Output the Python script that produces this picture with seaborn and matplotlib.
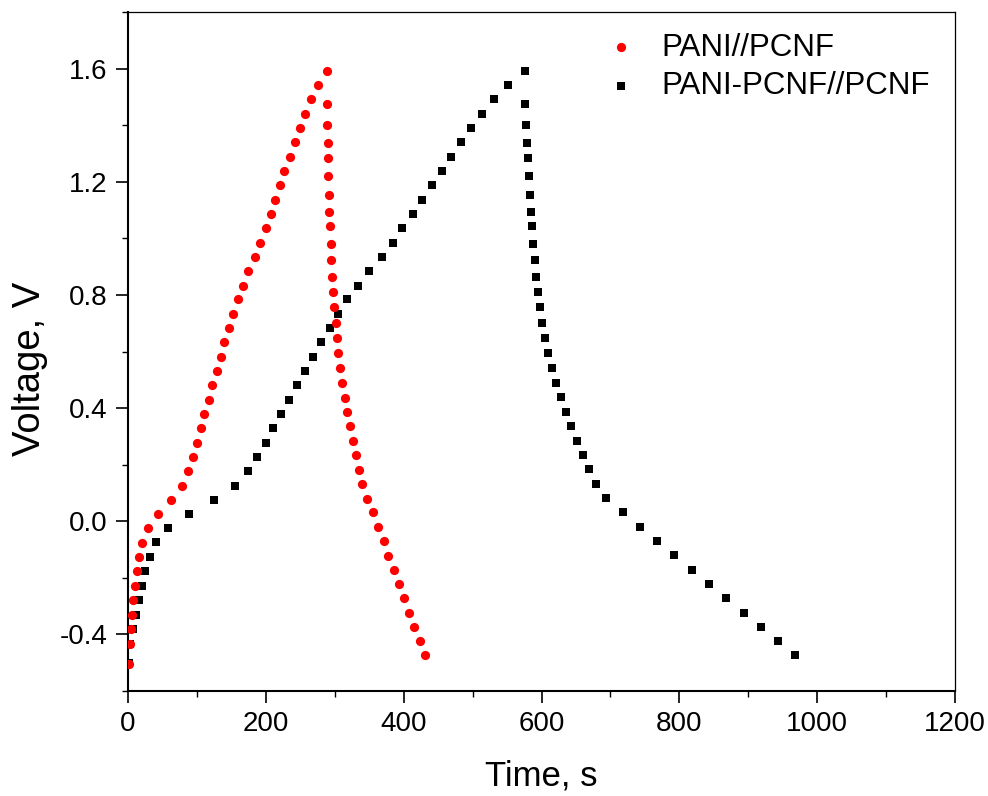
import matplotlib
matplotlib.use("Agg")
import matplotlib.pyplot as plt
from matplotlib.ticker import MultipleLocator
import seaborn as sns
import pandas as pd

# PANI//PCNF (red circles): time (s) and voltage (V)
pani_t = [1, 3, 4, 5.4, 7.7, 9.7, 12.6, 16, 20.3, 28.5, 44, 63, 78, 87, 94, 99.6,
          106, 111, 117, 122, 128.6, 134.4, 139.7, 146, 152.5, 159, 166.5, 174.5,
          183.7, 192, 199.7, 207, 213, 220.4, 227, 234.5, 241.7, 249, 257, 266,
          275.5, 288.6,
          288.6, 289, 289.5, 290, 290.5, 291, 292, 293, 294, 295, 296, 297.3, 299.2,
          301.2, 303.1, 305, 308, 310.3, 314.2, 318, 321.5, 325.8, 330.2, 334.5,
          339.8, 347, 355.7, 362.5, 370.8, 377.5, 385.3, 393, 400.2, 408, 415.2,
          423, 430.3]
pani_v = [-0.503, -0.435, -0.382, -0.33, -0.28, -0.23, -0.177, -0.127, -0.077,
          -0.025, 0.025, 0.075, 0.126, 0.177, 0.227, 0.277, 0.329, 0.379, 0.430,
          0.480, 0.530, 0.581, 0.632, 0.682, 0.733, 0.784, 0.833, 0.885, 0.935,
          0.985, 1.036, 1.087, 1.136, 1.187, 1.238, 1.289, 1.339, 1.39, 1.44,
          1.491, 1.541, 1.592,
          1.475, 1.40, 1.338, 1.283, 1.219, 1.154, 1.094, 1.043, 0.981, 0.924,
          0.864, 0.81, 0.757, 0.701, 0.647, 0.594, 0.541, 0.489, 0.437, 0.386,
          0.336, 0.284, 0.233, 0.181, 0.132, 0.080, 0.031, -0.021, -0.071,
          -0.123, -0.172, -0.223, -0.273, -0.324, -0.375, -0.424, -0.474]

# PANI-PCNF//PCNF (black squares)
comp_t = [1, 3, 6.8, 11.2, 15.5, 19.9, 25, 32.3, 41, 57.5, 88, 125.5, 155.2, 174.5,
          187.5, 199.7, 210.7, 221.4, 233, 244.6, 256.7, 268.3, 280.3, 292.5, 305,
          318.3, 333.3, 350, 367.9, 383.8, 398.3, 413.7, 427.3, 441.3, 454.9,
          468.8, 482.9, 497.8, 513.8, 531.7, 551, 576.1,
          576.7, 578.2, 579, 580, 581.5, 583, 584.4, 585.8, 587.8, 590.2, 592.7,
          595.3, 597.9, 601.3, 605.1, 610.1, 615.3, 621.1, 627.9, 636.1, 643.4,
          651.5, 659.8, 668.9, 679.7, 694.2, 718.3, 743.5, 768.1, 792.8, 818.3,
          843.5, 868, 893.3, 918.4, 943.6, 968]
comp_v = [-0.50, -0.435, -0.382, -0.33, -0.28, -0.23, -0.177, -0.127, -0.075,
          -0.025, 0.025, 0.075, 0.126, 0.177, 0.227, 0.278, 0.329, 0.379, 0.430,
          0.480, 0.530, 0.581, 0.632, 0.682, 0.733, 0.784, 0.833, 0.885, 0.935,
          0.985, 1.036, 1.087, 1.136, 1.187, 1.238, 1.289, 1.339, 1.39, 1.44,
          1.491, 1.541, 1.592,
          1.475, 1.40, 1.338, 1.283, 1.219, 1.154, 1.094, 1.043, 0.981, 0.924,
          0.864, 0.81, 0.757, 0.702, 0.648, 0.593, 0.542, 0.49, 0.438, 0.386,
          0.337, 0.284, 0.234, 0.183, 0.132, 0.081, 0.031, -0.020, -0.071,
          -0.121, -0.172, -0.222, -0.273, -0.323, -0.375, -0.424, -0.474]

labels = ["PANI//PCNF", "PANI-PCNF//PCNF"]
x_ticks = [0, 200, 400, 600, 800, 1000, 1200]
y_ticks = [-0.4, 0.0, 0.4, 0.8, 1.2, 1.6]

sns.set_style("ticks")
plt.rcParams["font.family"] = ["Liberation Sans", "DejaVu Sans"]
plt.rcParams["text.color"] = "black"
plt.rcParams["axes.labelcolor"] = "black"
plt.rcParams["xtick.color"] = "black"
plt.rcParams["ytick.color"] = "black"

df_a = pd.DataFrame({"t": pani_t, "v": pani_v})
df_b = pd.DataFrame({"t": comp_t, "v": comp_v})

fig = plt.figure(figsize=(9.88, 7.96), dpi=100)
ax = fig.add_axes([128 / 988, 1 - 691 / 796, (955 - 128) / 988, (691 - 12) / 796])

sns.scatterplot(data=df_a, x="t", y="v", ax=ax, color="#ff0000", marker="o",
                s=44, linewidth=0, label=labels[0], zorder=3)
sns.scatterplot(data=df_b, x="t", y="v", ax=ax, color="#000000", marker="s",
                s=28, linewidth=0, label=labels[1], zorder=2)

ax.set_xlim(0, 1200)
ax.set_ylim(-0.6, 1.8)
ax.set_xticks(x_ticks)
ax.set_yticks(y_ticks)
ax.set_yticklabels([f"{v:.1f}" for v in y_ticks])
ax.xaxis.set_minor_locator(MultipleLocator(100))
ax.yaxis.set_minor_locator(MultipleLocator(0.2))
ax.tick_params(which="major", direction="out", length=8.5, width=1.2,
               labelsize=20, pad=6, top=False, right=False, colors="black")
ax.tick_params(which="minor", direction="out", length=4.5, width=1.0,
               top=False, right=False, colors="black")
for side in ["left", "bottom"]:
    ax.spines[side].set_linewidth(1.5)
for side in ["top", "right"]:
    ax.spines[side].set_linewidth(0.9)
for sp in ax.spines.values():
    sp.set_color("black")

ax.set_xlabel("Time, s", fontsize=25, labelpad=16, color="black")
ax.set_ylabel("Voltage, V", fontsize=27.5, color="black")
ax.yaxis.set_label_coords(-0.097, 0.474)

handles, lbls = ax.get_legend_handles_labels()
leg = ax.legend(handles, lbls, loc="upper left",
                bbox_to_anchor=(588 / 988, 1 - 17 / 796),
                bbox_transform=fig.transFigure, frameon=False, fontsize=22.5,
                handlelength=1.1, handletextpad=0.75, labelspacing=0.26,
                borderpad=0.0, markerscale=1.0)
for txt in leg.get_texts():
    txt.set_color("black")

fig.savefig("out.png", dpi=100)
